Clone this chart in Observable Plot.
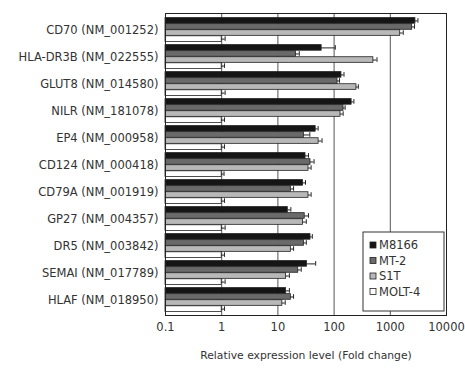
<!DOCTYPE html>
<html><head><meta charset="utf-8">
<script src="https://cdn.jsdelivr.net/npm/d3@7"></script>
<script src="https://cdn.jsdelivr.net/npm/@observablehq/plot@0.6"></script>
<style>body{margin:0;background:#fff;} #chart{width:465px;height:369px;}</style>
</head><body><div id="chart"></div>
<script>
const genes = ["CD70 (NM_001252)", "HLA-DR3B (NM_022555)", "GLUT8 (NM_014580)", "NILR (NM_181078)", "EP4 (NM_000958)", "CD124 (NM_000418)", "CD79A (NM_001919)", "GP27 (NM_004357)", "DR5 (NM_003842)", "SEMAI (NM_017789)", "HLAF (NM_018950)"];
const series = ["M8166", "MT-2", "S1T", "MOLT-4"];
const m8166 = [2800, 60, 135, 205, 47, 31, 28, 15, 38, 33, 14];
const mt2   = [2450, 21, 115, 147, 29, 38, 17, 30, 29, 23, 17];
const s1t   = [1500, 500, 250, 130, 53, 35, 35, 28, 17, 14, 12];
const molt4 = [1, 1, 1, 1, 1, 1, 1, 1, 1, 1, 1];
const errM8166 = [300, 45, 15, 20, 5, 4, 3, 2, 3, 14, 2];
const errMT2   = [250, 3, 10, 10, 8, 6, 2, 5, 3, 3, 2];
const errS1T   = [200, 80, 20, 15, 8, 4, 4, 4, 2, 2, 1.5];
const errMOLT4 = [0.15, 0.12, 0.15, 0.12, 0.12, 0.1, 0.12, 0.15, 0.12, 0.15, 0.12];
const xTicks = [0.1, 1, 10, 100, 1000, 10000];
const gridValues = [1, 10, 100, 1000];
const xLabel = "Relative expression level (Fold change)";

const values = [m8166, mt2, s1t, molt4];
const errs = [errM8166, errMT2, errS1T, errMOLT4];
const fills = ["#151515", "#6a6a6a", "#b8b8b8", "#ffffff"];

const data = [];
series.forEach((s, i) => genes.forEach((g, j) => data.push({gene: g, series: s, si: i, v: values[i][j], e: errs[i][j]})));

const W = 465, H = 369, mt = 13, mb = 54, ml = 165, mr = 19;
const band = (H - mt - mb) / genes.length;
const pad = 1.6;
const bh = (band - 2 * pad) / 4;

const marks = [Plot.ruleX(gridValues, {stroke: "#555", strokeWidth: 1})];
series.forEach((s, i) => {
  const sub = data.filter(d => d.si === i);
  const top = pad + i * bh, bot = band - pad - (i + 1) * bh;
  marks.push(Plot.barX(sub, {x1: () => 0.1, x2: "v", y: "gene", fill: fills[i], stroke: "#222", strokeWidth: 0.8, insetTop: top, insetBottom: bot}));
  marks.push(Plot.ruleY(sub, {y: "gene", x1: "v", x2: d => d.v + d.e, dy: -band / 2 + pad + (i + 0.5) * bh, stroke: "#222", strokeWidth: 1}));
  marks.push(Plot.tickX(sub, {x: d => d.v + d.e, y: "gene", insetTop: top + 0.5, insetBottom: bot + 0.5, stroke: "#222", strokeWidth: 1}));
});
marks.push(Plot.frame({stroke: "#222", strokeWidth: 1}));
marks.push(Plot.axisY({tickSize: 0, tickPadding: 7, fontSize: 11.5, label: null}));
marks.push(Plot.axisX({ticks: xTicks, tickSize: 0, tickPadding: 7, tickFormat: d => String(d), fontSize: 11.5,
  label: xLabel, labelAnchor: "center", labelArrow: "none", labelOffset: 43}));

const chart = Plot.plot({
  width: W, height: H,
  marginTop: mt, marginBottom: mb, marginLeft: ml, marginRight: mr,
  style: {fontFamily: "DejaVu Sans, Verdana, sans-serif", color: "#333", background: "#fff"},
  x: {type: "log", domain: [0.1, 10000]},
  y: {domain: genes, padding: 0},
  marks
});
document.getElementById("chart").appendChild(chart);

const svg = d3.select(chart);
svg.selectAll('g[aria-label="x-axis label"] text').style("font-size", "10.8px");

// legend
const lx = 363, ly = 232, lw = 81, lh = 79;
const lg = svg.append("g").attr("font-family", "DejaVu Sans, Verdana, sans-serif").attr("font-size", "11.5px").attr("text-anchor", "start");
lg.append("rect").attr("x", lx).attr("y", ly).attr("width", lw).attr("height", lh).attr("fill", "#fff").attr("stroke", "#333");
series.forEach((s, i) => {
  const cy = ly + 13 + i * 15.5;
  lg.append("rect").attr("x", lx + 7).attr("y", cy - 3).attr("width", 6).attr("height", 6)
    .attr("fill", fills[i]).attr("stroke", "#222").attr("stroke-width", 0.8);
  lg.append("text").attr("x", lx + 16).attr("y", cy).attr("dy", "0.35em").attr("text-anchor", "start").attr("fill", "#333").text(s);
});
</script></body></html>
